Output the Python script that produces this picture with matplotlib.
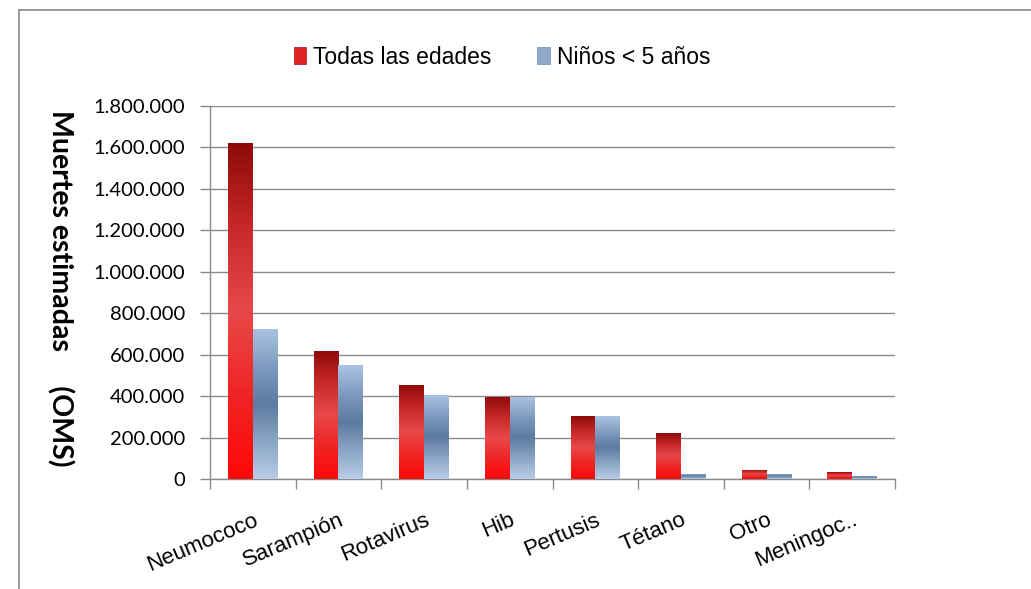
import matplotlib
matplotlib.use("Agg")
import matplotlib.pyplot as plt
import numpy as np
from matplotlib.colors import LinearSegmentedColormap
from matplotlib.patches import Rectangle
from matplotlib.lines import Line2D
from matplotlib.ticker import FuncFormatter

# data
categorias = ['Neumococo', 'Sarampión', 'Rotavirus', 'Hib', 'Pertusis', 'Tétano', 'Otro', 'Meningoc..']
todas_edades = [1620000, 618000, 454000, 396000, 304000, 220000, 45000, 32000]
ninos_5 = [725000, 550000, 406000, 396000, 304000, 25000, 25000, 15000]
series_labels = ['Todas las edades', 'Niños < 5 años']

# gradient colours (top -> bottom)
red_cmap = LinearSegmentedColormap.from_list('red_bar', ['#8e0a0a', '#c82828', '#e84848', '#f02424', '#ff0808'])
blue_cmap = LinearSegmentedColormap.from_list('blue_bar', ['#a9c3e3', '#7f9cc0', '#5d7b9f', '#8aa5c6', '#b9cde6'])

fig = plt.figure(figsize=(10.31, 5.89), dpi=100)
ax = fig.add_axes([0.2037, 0.1868, 0.6645, 0.6333])

x = np.arange(len(categorias))
w = 0.29
grad = np.linspace(0, 1, 256).reshape(-1, 1)


def gradient_bars(xpos, vals, cmap):
    bars = ax.bar(xpos, vals, width=w, color='none', edgecolor='none', zorder=3)
    for b in bars:
        x0, y0 = b.get_x(), b.get_y()
        im = ax.imshow(grad, cmap=cmap, aspect='auto', zorder=3,
                       extent=(x0, x0 + b.get_width(), y0, y0 + b.get_height()),
                       origin='upper', interpolation='bilinear')
        im.set_clip_path(b)
    return bars


gradient_bars(x - w / 2, todas_edades, red_cmap)
gradient_bars(x + w / 2, ninos_5, blue_cmap)

ax.set_xlim(-0.5, len(categorias) - 0.5)
ax.set_ylim(0, 1800000)
ax.set_yticks(np.arange(0, 1800001, 200000))
ax.yaxis.set_major_formatter(FuncFormatter(lambda v, p: f'{int(v):,}'.replace(',', '.')))

ax.grid(axis='y', color='#8a8a8a', linewidth=1.0, zorder=0)
ax.set_axisbelow(True)
for s in ['top', 'right']:
    ax.spines[s].set_visible(False)
for s in ['left', 'bottom']:
    ax.spines[s].set_color('#8a8a8a')
    ax.spines[s].set_linewidth(1.0)

# category boundaries as x ticks
ax.set_xticks(np.arange(-0.5, len(categorias), 1.0))
ax.set_xticklabels([])
ax.tick_params(axis='x', length=7, color='#8a8a8a', width=1.0)
ax.tick_params(axis='y', length=7, color='#8a8a8a', width=1.0, labelsize=14.5, pad=11)
for t in ax.get_yticklabels():
    t.set_fontfamily('Lato')

for i, c in enumerate(categorias):
    ax.annotate(c, xy=(i, 0), xycoords=('data', 'axes fraction'),
                xytext=(0, -22), textcoords='offset points',
                rotation=23, rotation_mode='anchor', ha='right', va='top',
                fontsize=16, fontfamily='Liberation Sans')

fig.text(0.058, 0.51, 'Muertes estimadas     (OMS)', rotation=270, ha='center', va='center',
         fontsize=20.5, fontweight='bold', fontfamily='Lato')

handles = [Rectangle((0, 0), 1, 1, facecolor='#e02222', edgecolor='#a01010', linewidth=0.5),
           Rectangle((0, 0), 1, 1, facecolor='#8ea8c8', edgecolor='#6f88a8', linewidth=0.5)]
fig.legend(handles, series_labels, loc='center', bbox_to_anchor=(0.487, 0.903), ncol=2,
           frameon=False, prop={'family': 'Liberation Sans', 'size': 16.5},
           handlelength=0.55, handleheight=0.8, handletextpad=0.3, columnspacing=2.0)

# outer frame (top and left edges only visible)
fig.add_artist(Line2D([0.0185, 1.0], [0.983, 0.983], transform=fig.transFigure, color='#8a8a8a', linewidth=1.2))
fig.add_artist(Line2D([0.0185, 0.0185], [0.0, 0.983], transform=fig.transFigure, color='#8a8a8a', linewidth=1.2))

fig.savefig('out.png', dpi=100)
